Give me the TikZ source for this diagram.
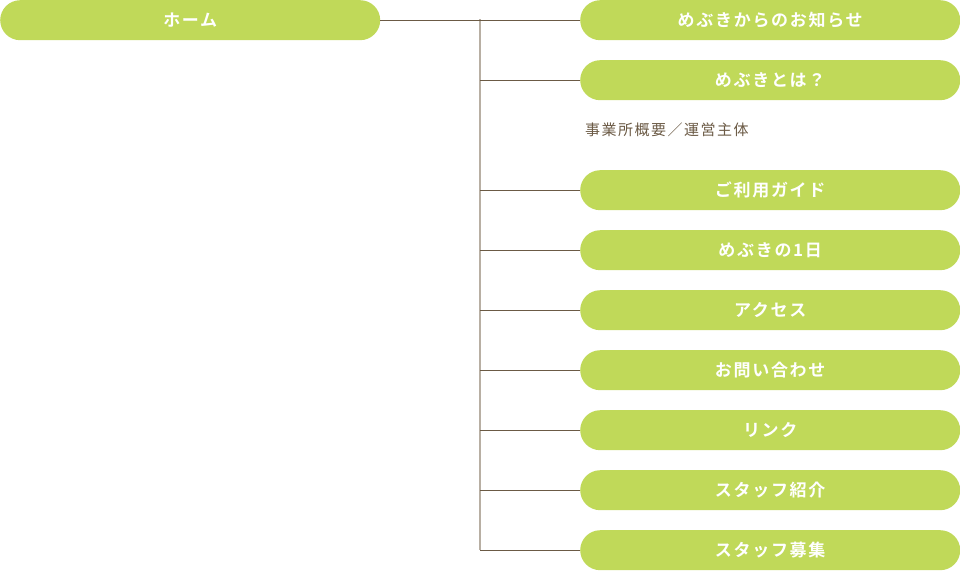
\documentclass[tikz,border=0pt]{standalone}
\usepackage{fontspec}
\newfontfamily\jpb[LetterSpace=10]{Noto Sans CJK JP Bold}
\newfontfamily\jp[LetterSpace=10]{Noto Sans CJK JP}
\definecolor{pill}{HTML}{C0D959}
\definecolor{brn}{HTML}{6B5A45}
\definecolor{vln}{HTML}{B8AFA3}
\tikzset{
  pillbox/.style={fill=pill, rounded corners=20pt, minimum width=380pt, minimum height=40pt, inner sep=0pt, text=white, font=\jpb\fontsize{17pt}{17pt}\selectfont, anchor=north west},
  hline/.style={draw=brn, line width=1pt},
  vline/.style={draw=vln, line width=1.5pt}
}
\begin{document}
\begin{tikzpicture}[x=1pt,y=-1pt]
\useasboundingbox (0,0) rectangle (960,570);
\node[pillbox] (home) at (0,0) {ホーム};
\node[pillbox] (n1) at (580,0) {めぶきからのお知らせ};
\node[pillbox] (n2) at (580,60) {めぶきとは？};
\node[anchor=west, text=brn, font=\jp\fontsize{15pt}{15pt}\selectfont, inner sep=0pt] (sub) at (585,130) {事業所概要／運営主体};
\node[pillbox] (n3) at (580,170) {ご利用ガイド};
\node[pillbox] (n4) at (580,230) {めぶきの1日};
\node[pillbox] (n5) at (580,290) {アクセス};
\node[pillbox] (n6) at (580,350) {お問い合わせ};
\node[pillbox] (n7) at (580,410) {リンク};
\node[pillbox] (n8) at (580,470) {スタッフ紹介};
\node[pillbox] (n9) at (580,530) {スタッフ募集};
\coordinate (top) at (480,19);
\coordinate (bot) at (480,549.5);
\draw[vline] (top) -- (bot);
\draw[hline] (home.east) -- (n1.west);
\foreach \n in {n2,n3,n4,n5,n6,n7,n8,n9}{
  \draw[hline] (top |- \n.west) -- (\n.west);
}
\end{tikzpicture}
\end{document}
